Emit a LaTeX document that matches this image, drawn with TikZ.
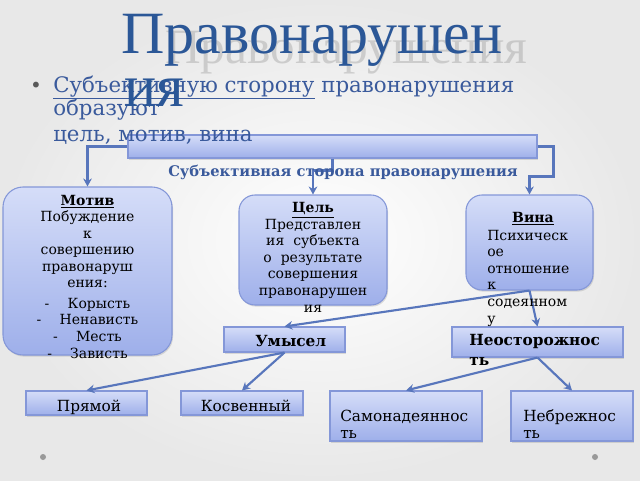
\documentclass[tikz,border=0pt]{standalone}
\usepackage{fontspec}
\setmainfont{DejaVu Serif}
\newfontfamily\titlefont{Liberation Serif}
\usetikzlibrary{shadows,fit,arrows.meta,calc}
\definecolor{titleblue}{HTML}{2B5797}
\definecolor{textblue}{HTML}{3A5A9C}
\definecolor{boxtop}{HTML}{D5DDF8}
\definecolor{boxbot}{HTML}{9EAFEA}
\definecolor{boxline}{HTML}{8497D8}
\definecolor{arrowblue}{HTML}{5876BC}
\begin{document}
\begin{tikzpicture}[x=0.75pt,y=-0.75pt,
  box/.style={draw=boxline, line width=0.8pt, top color=boxtop, bottom color=boxbot,
    inner sep=0pt, drop shadow={opacity=0.25, shadow xshift=0.8pt, shadow yshift=-1.2pt}},
  rbox/.style={box, rounded corners=12pt},
  conn/.style={draw=arrowblue, line width=1.6pt, -{Stealth[length=6pt,width=6.5pt]}},
  boxtext/.style={inner sep=0pt, font=\fontsize{10.5}{12.4}\selectfont, align=center},
  smalltext/.style={inner sep=0pt, font=\fontsize{11.5}{12.4}\selectfont, align=left},
  bodytext/.style={inner sep=0pt, font=\fontsize{16}{18}\selectfont, text=textblue, anchor=base west},
]
% background
\shade[inner color=white, outer color=black!9] (0,0) rectangle (640,480);
\path[use as bounding box] (0,0) rectangle (640,480);

% title
\node[inner sep=0pt, font=\titlefont\fontsize{37}{40}\selectfont, text=gray, opacity=0.3, anchor=base west] (titleshadow) at (165,63) {Правонарушения};
\node[inner sep=0pt, font=\titlefont\fontsize{45}{50}\selectfont, text=titleblue, anchor=base] (title) at (312,53) {Правонарушен};

% bar
\node[box, fit={(128,135) (537,158)}] (bar) {};

% bullet text
\node[inner sep=0pt, anchor=base, text=gray!70!black, font=\fontsize{15}{17}\selectfont] (bul) at (36,92) {•};
\node[bodytext] (l1) at (53,92) {\underline{Субъективную сторону} правонарушения};
\node[bodytext] (l2) at (53,115) {образуют};
\node[bodytext] (l3) at (53,141) {цель, мотив, вина};
\node[inner sep=0pt, font=\titlefont\fontsize{45}{50}\selectfont, text=titleblue, anchor=base west] (title2) at (124,106) {ия};

% boxes
\node[rbox, rounded corners=15pt, fit={(3,187) (172,355)}] (motiv) {};
\node[rbox, fit={(239,195) (387,305)}] (cel) {};
\node[rbox, fit={(466,195) (593,290)}] (vina) {};
\node[box, fit={(224,327) (345,352)}] (umysel) {};
\node[box, fit={(452,327) (623,357)}] (neost) {};
\node[box, fit={(26,391) (147,415)}] (pryamoy) {};
\node[box, fit={(181,391) (303,415)}] (kosv) {};
\node[box, fit={(330,391) (482,441)}] (samon) {};
\node[box, fit={(511,391) (633,441)}] (nebr) {};

% connectors
\draw[conn] (bar.west) -| (motiv.north);
\draw[conn] (bar.south) -- ++(0,12) -| (cel.north);
\draw[conn] (bar.east) -- ++(16,0) |- ($(vina.north)+(0,-18)$) -- (vina.north);
\draw[conn] (vina.south) -- (umysel.north);
\draw[conn] (vina.south) -- (neost.north);
\draw[conn] (umysel.south) -- (pryamoy.north);
\draw[conn] (umysel.south) -- (kosv.north);
\draw[conn] (neost.south) -- (samon.north);
\draw[conn] (neost.south) -- (nebr.north);

% label
\node[inner sep=0pt, font=\bfseries\fontsize{11}{13}\selectfont, text=textblue, anchor=base] (lbl) at (343,176) {Субъективная сторона правонарушения};

% box texts (anchor base = baseline of the last line)
\node[boxtext, anchor=base] (motivtxt) at (87.5,358) {\textbf{\underline{Мотив}}\\Побуждение\\к\\совершению\\правонаруш\\ения:\\[3pt]-\hspace{1.3em}Корысть\\-\hspace{1.3em}Ненависть\\-\hspace{1.3em}Месть\\-\hspace{1.3em}Зависть};
\node[boxtext, anchor=base] (celtxt) at (313,312) {\textbf{\underline{Цель}}\\Представлен\\ия\ \ субъекта\\о\ \ результате\\совершения\\правонарушен\\ия};
\node[boxtext, anchor=base] (vinahead) at (533,222) {\textbf{\underline{Вина}}};
\node[boxtext, align=left, anchor=base west] (vinatxt) at (487,323) {Психическ\\ое\\отношение\\к\\содеянном\\у};
\node[smalltext, anchor=base west, font=\bfseries\fontsize{11.5}{12.4}\selectfont] (umtxt) at (255,346) {Умысел};
\node[smalltext, anchor=base west, font=\bfseries\fontsize{11.5}{14.3}\selectfont] (netxt) at (469,365) {Неосторожнос\\ть};
\node[smalltext, anchor=base] (prtxt) at (89,411) {Прямой};
\node[smalltext, anchor=base] (kotxt) at (246,411) {Косвенный};
\node[smalltext, anchor=base west, font=\fontsize{11.5}{12.75}\selectfont] (satxt) at (340,438) {Самонадеяннос\\ть};
\node[smalltext, anchor=base west, font=\fontsize{11.5}{12.75}\selectfont] (nbtxt) at (523,438) {Небрежнос\\ть};

% dots
\fill[gray!80] (43,457) circle (3) coordinate (dot1);
\fill[gray!80] (595,457) circle (3) coordinate (dot2);
\end{tikzpicture}
\end{document}
